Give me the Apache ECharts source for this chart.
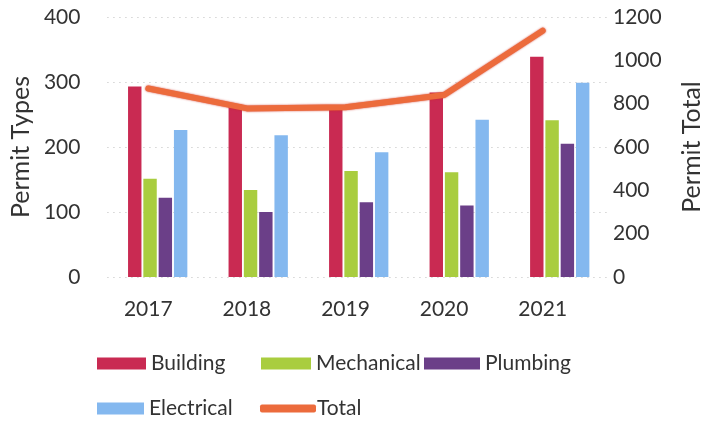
<!DOCTYPE html>
<html>
<head>
<meta charset="utf-8">
<script src="https://cdn.jsdelivr.net/npm/echarts@6/dist/echarts.min.js"></script>
<style>
  html, body { margin: 0; padding: 0; background: #fff; }
  #chart { width: 712px; height: 422px; }
</style>
</head>
<body>
<div id="chart"></div>
<script>
// Permit counts by year
const years = ['2017', '2018', '2019', '2020', '2021'];
const building   = [293, 265, 257, 284, 339];
const mechanical = [151, 134, 163, 161, 241];
const plumbing   = [122, 100, 115, 110, 205];
const electrical = [226, 218, 192, 242, 299];
const total      = [870, 778, 783, 840, 1137];

const leftTicks = [0, 100, 200, 300, 400];
const rightTicks = [0, 200, 400, 600, 800, 1000, 1200];

const FONT = 'Lato, "Open Sans", sans-serif';
const TXT = '#333';

const colors = {
  Building: '#c92a52',
  Mechanical: '#a9cd3f',
  Plumbing: '#6b3f88',
  Electrical: '#84b8ef',
  Total: '#ec6b3c'
};

const chart = echarts.init(document.getElementById('chart'));

function legendAt(name, left, top, iconWidth, isLine) {
  return {
    data: [name],
    left: left, top: top,
    orient: 'horizontal',
    itemWidth: iconWidth,
    itemHeight: isLine ? 8 : 12,
    itemGap: 0,
    icon: isLine ? 'roundRect' : 'rect',
    textStyle: { fontFamily: FONT, fontSize: 21, color: TXT, padding: [0, 0, 0, isLine ? -4 : 0] },
    selectedMode: false
  };
}

const barSeries = (name, data) => ({
  name, type: 'bar', data,
  xAxisIndex: 0,
  yAxisIndex: 0,
  barGap: '14%',
  barCategoryGap: '41%',
  itemStyle: { color: colors[name] }
});

chart.setOption({
  animation: false,
  backgroundColor: '#fff',
  // bars sit in one grid, the total line and year labels in a second one slightly to the left
  grid: [
    { left: 107, right: 102, top: 17, bottom: 145, containLabel: false },
    { left: 99, right: 106, top: 17, bottom: 145, containLabel: false }
  ],
  legend: [
    legendAt('Building', 92, 348, 49, false),
    legendAt('Mechanical', 256, 348, 50, false),
    legendAt('Plumbing', 419, 348, 56, false),
    legendAt('Electrical', 92, 393, 47, false),
    legendAt('Total', 255, 393, 56, true)
  ],
  xAxis: [
    {
      type: 'category', gridIndex: 0,
      data: years,
      axisLine: { show: false },
      axisTick: { show: false },
      axisLabel: { show: false }
    },
    {
      type: 'category', gridIndex: 1,
      data: years,
      axisLine: { show: false },
      axisTick: { show: false },
      axisLabel: { fontFamily: FONT, fontSize: 21, color: TXT, margin: 22 }
    }
  ],
  yAxis: [
    {
      type: 'value', gridIndex: 0,
      position: 'left',
      min: leftTicks[0], max: leftTicks[leftTicks.length - 1], interval: 100,
      name: 'Permit Types',
      nameLocation: 'middle',
      nameGap: 68,
      nameRotate: 90,
      nameTextStyle: { fontFamily: FONT, fontSize: 25, color: TXT },
      axisLine: { show: false },
      axisTick: { show: false },
      axisLabel: { fontFamily: FONT, fontSize: 21, color: TXT, margin: 27 },
      splitLine: { show: true, lineStyle: { color: '#bdbdbd', type: [1, 5], width: 1 } }
    },
    {
      type: 'value', gridIndex: 1,
      position: 'right',
      min: rightTicks[0], max: rightTicks[rightTicks.length - 1], interval: 200,
      name: 'Permit Total',
      nameLocation: 'middle',
      nameGap: 87,
      nameRotate: 90,
      nameTextStyle: { fontFamily: FONT, fontSize: 25, color: TXT },
      axisLine: { show: false },
      axisTick: { show: false },
      axisLabel: { fontFamily: FONT, fontSize: 21, color: TXT, margin: 21, formatter: v => String(v) },
      splitLine: { show: false }
    }
  ],
  series: [
    barSeries('Building', building),
    barSeries('Mechanical', mechanical),
    barSeries('Plumbing', plumbing),
    barSeries('Electrical', electrical),
    {
      name: 'Total', type: 'line', data: total,
      xAxisIndex: 1,
      yAxisIndex: 1,
      symbol: 'none',
      z: 5,
      lineStyle: {
        color: colors.Total, width: 6, cap: 'round', join: 'round',
        shadowColor: 'rgba(205,45,30,0.85)', shadowBlur: 2
      },
      itemStyle: { color: colors.Total }
    }
  ]
});
</script>
</body>
</html>
